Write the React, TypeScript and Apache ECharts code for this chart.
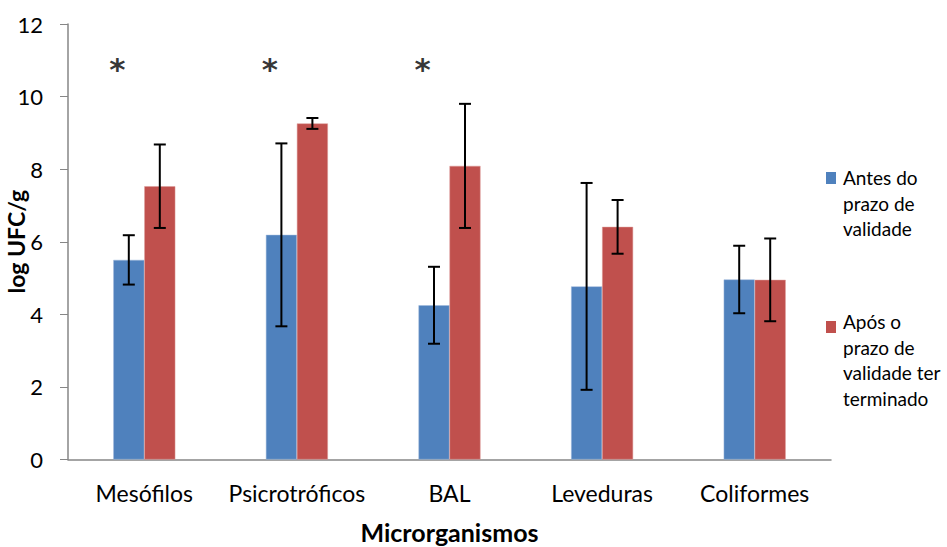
import React, { useEffect, useRef } from "react";
import * as echarts from "echarts";

const categories = ["Mesófilos", "Psicrotróficos", "BAL", "Leveduras", "Coliformes"];
const antes = [5.5, 6.19, 4.25, 4.77, 4.96];
const antesErr = [0.68, 2.52, 1.06, 2.85, 0.93];
const apos = [7.53, 9.26, 8.09, 6.41, 4.95];
const aposErr = [1.15, 0.15, 1.71, 0.74, 1.14];
const significant = [true, true, true, false, false];
const starLevel = 10.9;
const seriesNames = ["Antes do\nprazo de\nvalidade", "Após o\nprazo de\nvalidade ter\nterminado"];
const yTicks = [0, 2, 4, 6, 8, 10, 12];

const BLUE = "#4F81BD";
const RED = "#C0504D";
const FONT = "Lato, 'Liberation Sans', sans-serif";
const BAR_W = 31;

function errorSeries(means: number[], errs: number[], offset: number) {
  return {
    type: "custom",
    silent: true,
    z: 5,
    data: means.map((m, i) => [i, m - errs[i], m + errs[i]]),
    encode: { x: 0, y: [1, 2] },
    renderItem: (params: any, api: any) => {
      const x = api.value(0);
      const lo = api.coord([x, api.value(1)]);
      const hi = api.coord([x, api.value(2)]);
      const cx = lo[0] + offset;
      const cap = 6;
      const st = { stroke: "#000", lineWidth: 2 };
      return {
        type: "group",
        children: [
          { type: "line", shape: { x1: cx, y1: hi[1], x2: cx, y2: lo[1] }, style: st },
          { type: "line", shape: { x1: cx - cap, y1: hi[1], x2: cx + cap, y2: hi[1] }, style: st },
          { type: "line", shape: { x1: cx - cap, y1: lo[1], x2: cx + cap, y2: lo[1] }, style: st },
        ],
      };
    },
  };
}

export default function App() {
  const ref = useRef<HTMLDivElement>(null);
  useEffect(() => {
    if (!ref.current) return;
    const chart = echarts.init(ref.current, undefined, { renderer: "svg" });
    const option: any = {
      animation: false,
      backgroundColor: "#fff",
      grid: { left: 68, right: 116, top: 24, bottom: 87.5, containLabel: false, outerBoundsMode: "none" },
      xAxis: {
        type: "category",
        data: categories,
        axisLine: { lineStyle: { color: "#868686", width: 1.5 } },
        axisTick: { show: false },
        axisLabel: { color: "#000", fontSize: 23, fontFamily: FONT, margin: 22, interval: 0, hideOverlap: false },
        name: "Microrganismos",
        nameLocation: "middle",
        nameGap: 60,
        nameMoveOverlap: false,
        nameTextStyle: { color: "#000", fontSize: 25, fontWeight: "bold", fontFamily: FONT },
      },
      yAxis: {
        type: "value",
        min: 0,
        max: 12,
        interval: 2,
        splitLine: { show: false },
        axisLine: { show: true, lineStyle: { color: "#868686", width: 1.5 } },
        axisTick: { show: true, inside: false, length: 8, lineStyle: { color: "#868686" } },
        axisLabel: {
          color: "#000",
          fontSize: 22,
          fontFamily: FONT,
          margin: 25,
          formatter: (v: number) => (yTicks.includes(v) ? String(v) : ""),
        },
        name: "log UFC/g",
        nameLocation: "middle",
        nameGap: 41,
        nameMoveOverlap: false,
        nameTextStyle: { color: "#000", fontSize: 23, fontWeight: "bold", fontFamily: FONT },
      },
      series: [
        {
          type: "bar",
          name: seriesNames[0],
          data: antes,
          barWidth: BAR_W,
          barGap: "0%",
          itemStyle: { color: BLUE, borderColor: "#9fb8dc", borderWidth: 0.5 },
        },
        {
          type: "bar",
          name: seriesNames[1],
          data: apos,
          barWidth: BAR_W,
          barGap: "0%",
          itemStyle: { color: RED, borderColor: "#dc9a98", borderWidth: 0.5 },
        },
        errorSeries(antes, antesErr, -BAR_W / 2),
        errorSeries(apos, aposErr, BAR_W / 2),
        {
          type: "scatter",
          silent: true,
          symbolSize: 0,
          data: significant.map((s, i) => (s ? [i, starLevel] : null)).filter((d) => d),
          label: {
            show: true,
            formatter: "*",
            position: "inside",
            offset: [-27, 5],
            color: "#000",
            fontSize: 31,
            fontWeight: "bold",
            fontFamily: "'DejaVu Sans', sans-serif",
          },
        },
      ],
      graphic: [
        { type: "rect", left: 826, top: 172, shape: { width: 10, height: 12 }, style: { fill: BLUE } },
        {
          type: "text",
          left: 843,
          top: 165,
          style: { text: seriesNames[0], fill: "#000", font: `19px ${FONT}`, lineHeight: 25.5 },
        },
        { type: "rect", left: 826, top: 321, shape: { width: 10, height: 12 }, style: { fill: RED } },
        {
          type: "text",
          left: 843,
          top: 309,
          style: { text: seriesNames[1], fill: "#000", font: `19px ${FONT}`, lineHeight: 25.5 },
        },
      ],
    };
    chart.setOption(option);
    return () => chart.dispose();
  }, []);
  return <div ref={ref} style={{ width: 947, height: 547, position: "absolute", left: 0, top: 0 }} />;
}
